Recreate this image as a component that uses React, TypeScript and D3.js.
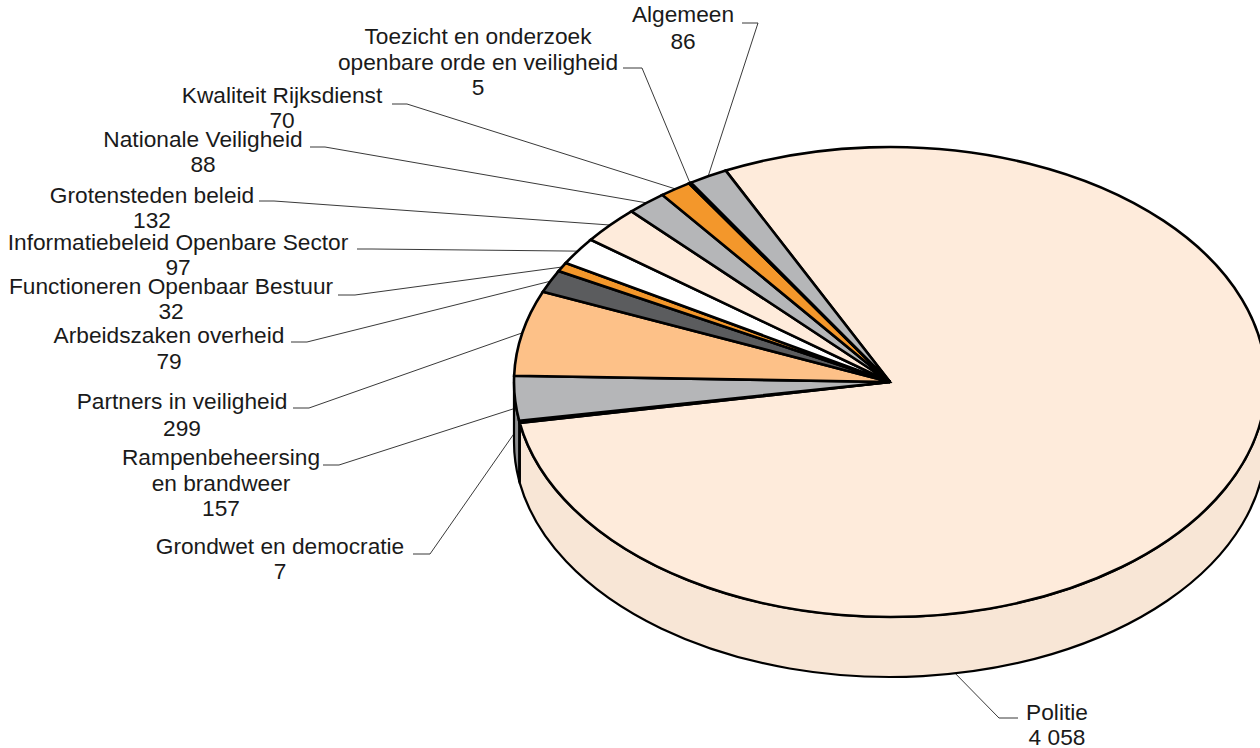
import React from 'react';
import * as d3 from 'd3';

const categories = [
	'Politie',
	'Grondwet en democratie',
	'Rampenbeheersing en brandweer',
	'Partners in veiligheid',
	'Arbeidszaken overheid',
	'Functioneren Openbaar Bestuur',
	'Informatiebeleid Openbare Sector',
	'Grotensteden beleid',
	'Nationale Veiligheid',
	'Kwaliteit Rijksdienst',
	'Toezicht en onderzoek openbare orde en veiligheid',
	'Algemeen',
];
const values = [4058, 7, 157, 299, 79, 32, 97, 132, 88, 70, 5, 86];
const valueLabels = ['4 058', '7', '157', '299', '79', '32', '97', '132', '88', '70', '5', '86'];
const topColors = [
	'#feebdb', '#5b5c5e', '#b5b6b8', '#fdc188', '#5b5c5e', '#f3972b',
	'#ffffff', '#feebdb', '#b5b6b8', '#f3972b', '#111111', '#b5b6b8',
];
const sideColors = [
	'#f8e6d6', '#4a4b4d', '#8e8f91', '#e8b07c', '#4a4b4d', '#df8a27',
	'#eeeeee', '#f8e6d6', '#8e8f91', '#df8a27', '#111111', '#8e8f91',
];

// label layout per slice, in the same order as the categories
const labelLines = [
	['Politie'],
	['Grondwet en democratie'],
	['Rampenbeheersing', 'en brandweer'],
	['Partners in veiligheid'],
	['Arbeidszaken overheid'],
	['Functioneren Openbaar Bestuur'],
	['Informatiebeleid Openbare Sector'],
	['Grotensteden beleid'],
	['Nationale Veiligheid'],
	['Kwaliteit Rijksdienst'],
	['Toezicht en onderzoek', 'openbare orde en veiligheid'],
	['Algemeen'],
];
const labelX = [1057, 280, 221, 182, 169, 171, 178, 152, 203, 282, 478, 683];
const labelY = [720, 554, 465, 409, 343, 294, 250, 203, 147, 103, 44, 22];
const lineGap = [25, 25, 25.5, 27, 26, 25, 25, 25, 25, 25, 25.5, 27];
const elbowStart = [
	[1018, 718], [413, 554], [323, 465], [293, 408], [291, 342], [338, 295],
	[357, 249], [259, 201], [310, 147], [392, 104], [623, 68], [742, 23],
];
const elbowEnd = [
	[999, 718], [430, 554], [339, 465], [309, 408], [307, 342], [355, 295],
	[372, 249], [274, 201], [325, 147], [407, 104], [642, 68], [758, 23],
];

const width = 1260;
const height = 748;
const cx = 890;
const cy = 382;
const rx = 376;
const ry = 235;
const depth = 60;
const rad = Math.PI / 180;

const startAngle = -25.9 * rad;

const slices = d3
	.pie<number>()
	.sort(null)
	.startAngle(startAngle)
	.endAngle(startAngle + Math.PI * 2)(values);

const wedge = d3.arc<d3.PieArcDatum<number>>().innerRadius(0).outerRadius(rx);

const rim = (a: number, drop = 0): [number, number] => [
	cx + rx * Math.sin(a),
	cy - ry * Math.cos(a) + drop,
];

// front wall of one slice, only the part between 90 and 270 degrees shows
const sidePath = (start: number, end: number) => {
	const a0 = Math.max(start, Math.PI / 2);
	const a1 = Math.min(end, (Math.PI * 3) / 2);
	if (a1 <= a0) return null;
	const p0 = rim(a0);
	const p1 = rim(a1);
	return [
		`M${p0[0]},${p0[1]}`,
		`A${rx},${ry} 0 0 1 ${p1[0]},${p1[1]}`,
		`L${p1[0]},${p1[1] + depth}`,
		`A${rx},${ry} 0 0 0 ${p0[0]},${p0[1] + depth}`,
		'Z',
	].join(' ');
};

// where a leader meets the pie: slice middle, except the slices that end in the wall
const leaderEnd = (i: number): [number, number] => {
	const s = slices[i];
	if (i === 0) return rim(170 * rad, depth);
	const mid = (s.startAngle + s.endAngle) / 2;
	if (i === 1) return rim(mid, 4);
	if (i === 2) return rim(mid, 10);
	return rim(mid);
};

const leader = d3.line();

const App: React.FC = () => {
	return (
		<svg
			width={width}
			height={height}
			style={{ position: 'absolute', left: 0, top: 0 }}
			fontFamily="'Liberation Sans', sans-serif"
			fontSize={22.7}>
			{/* leaders go first so the pie covers their ends */}
			{slices.map((s, i) => (
				<path
					key={categories[i]}
					d={leader([elbowStart[i] as [number, number], elbowEnd[i] as [number, number], leaderEnd(i)]) ?? ''}
					fill="none"
					stroke="#222"
					strokeWidth={0.9}
				/>
			))}
			{slices.map((s, i) => {
				const d = sidePath(s.startAngle, s.endAngle);
				return d ? (
					<path key={i} d={d} fill={sideColors[i]} stroke="#000" strokeWidth={2.2} strokeLinejoin="round" />
				) : null;
			})}
			{slices.map((s, i) => (
				<path
					key={i}
					d={wedge(s) ?? ''}
					transform={`translate(${cx},${cy}) scale(1,${ry / rx})`}
					fill={topColors[i]}
					stroke="#000"
					strokeWidth={2.6}
					vectorEffect="non-scaling-stroke"
				/>
			))}
			{labelLines.map((lines, i) => (
				<text key={i} textAnchor="middle" fill="#1a1a1a">
					{[...lines, valueLabels[i]].map((t, j) => (
						<tspan key={j} x={labelX[i]} y={labelY[i] + j * lineGap[i]}>
							{t}
						</tspan>
					))}
				</text>
			))}
		</svg>
	);
};

export default App;
